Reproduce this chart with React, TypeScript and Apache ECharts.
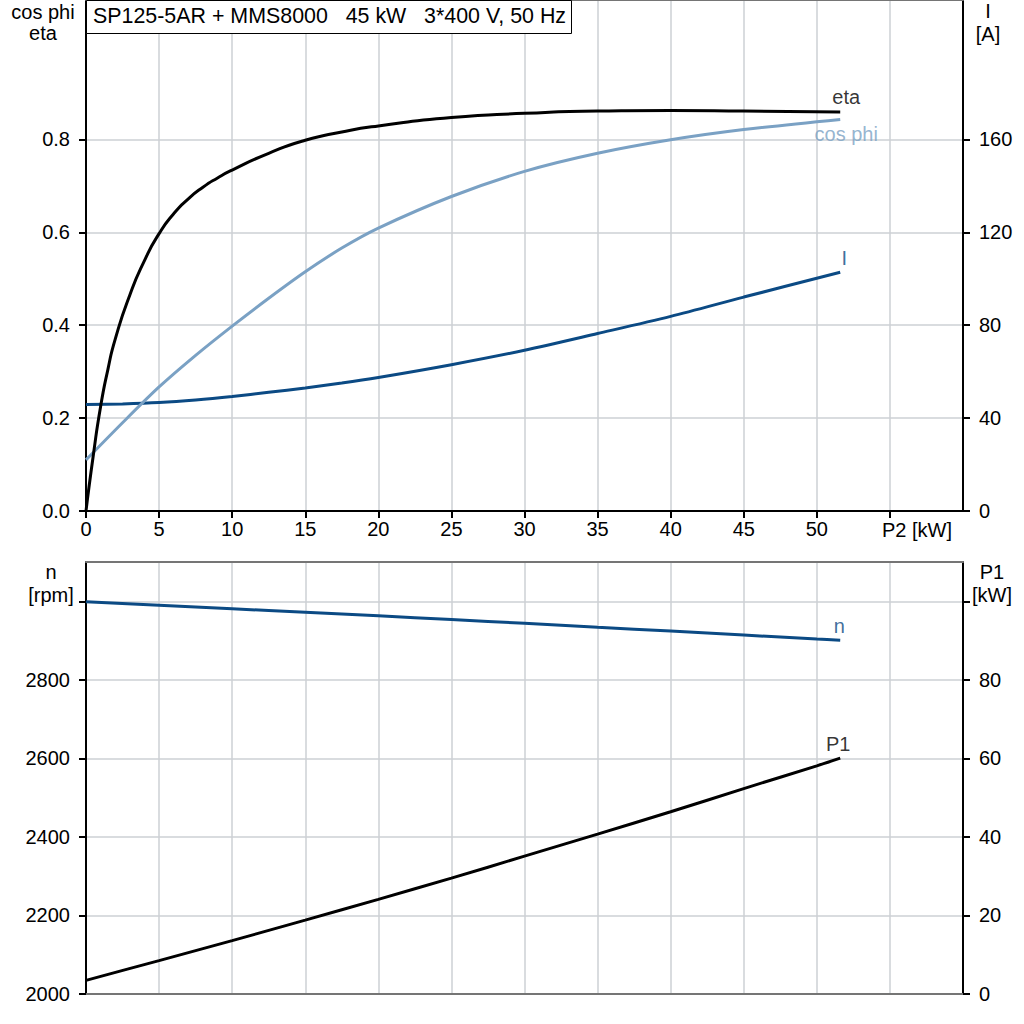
import React, { useEffect, useRef } from "react";
import * as echarts from "echarts";

// ---- data ----
const P2_ETA = [0, 0.5, 1, 1.5, 2, 3, 4, 5, 6, 7, 8, 9, 10, 12.5, 15, 17.5, 20, 25, 30, 35, 40, 45, 51.6];
const ETA = [0, 0.12, 0.225, 0.305, 0.37, 0.465, 0.539, 0.597, 0.64, 0.672, 0.697, 0.717, 0.734, 0.77, 0.798, 0.816, 0.829, 0.847, 0.856, 0.861, 0.862, 0.861, 0.859];

const P2_COS = [0, 2.5, 5, 7.5, 10, 12.5, 15, 17.5, 20, 25, 30, 35, 40, 45, 51.6];
const COS_PHI = [0.11, 0.19, 0.267, 0.335, 0.398, 0.458, 0.515, 0.566, 0.609, 0.677, 0.731, 0.77, 0.799, 0.821, 0.843];

const P2_CURRENT = [0, 2.5, 5, 7.5, 10, 12.5, 15, 17.5, 20, 25, 30, 35, 40, 45, 51.6];
const CURRENT = [45.8, 46.1, 46.7, 47.8, 49.3, 51.1, 53, 55.1, 57.5, 63, 69.2, 76.4, 83.8, 92.1, 102.8];

const P2_BOTTOM = [0, 5, 10, 15, 20, 25, 30, 35, 40, 45, 50, 51.6];
const SPEED = [2999, 2990, 2981, 2972, 2963, 2953.5, 2944, 2934, 2924, 2914, 2904, 2901];
const P1 = [3.48, 8.5, 13.6, 18.8, 24.1, 29.5, 35.1, 40.7, 46.4, 52.3, 58.1, 60.05];

const X_TICKS = [0, 5, 10, 15, 20, 25, 30, 35, 40, 45, 50, 55];
const X_LABELS = [0, 5, 10, 15, 20, 25, 30, 35, 40, 45, 50];
const TOP_LEFT_LABELS = [0, 0.2, 0.4, 0.6, 0.8];
const TOP_RIGHT_LABELS = [0, 40, 80, 120, 160];
const BOTTOM_LEFT_LABELS = [2000, 2200, 2400, 2600, 2800];
const BOTTOM_LEFT_TICKS = [2000, 2200, 2400, 2600, 2800, 3000];
const BOTTOM_RIGHT_LABELS = [0, 20, 40, 60, 80];
const BOTTOM_RIGHT_TICKS = [0, 20, 40, 60, 80, 100];

const TITLE = "SP125-5AR + MMS8000   45 kW   3*400 V, 50 Hz";

const FONT = '"Liberation Sans", Arial, sans-serif';
const BLACK = "#000000";
const DARK_BLUE = "#0b4a84";
const LIGHT_BLUE = "#7aa1c4";
const GRID_GRAY = "#cdd0d4";
const BORDER_GRAY = "#757575";

const pairs = (xs: number[], ys: number[]) => xs.map((x, i) => [x, ys[i]]);

export default function App() {
  const ref = useRef<HTMLDivElement>(null);

  useEffect(() => {
    if (!ref.current) return;
    const chart = echarts.init(ref.current, undefined, { renderer: "svg" });

    const axisLineBlack = { show: true, onZero: false, lineStyle: { color: BLACK, width: 2 } };
    const tickStyle = { show: true, inside: false, length: 7, lineStyle: { color: BLACK, width: 2 } };
    const labelStyle = { color: BLACK, fontSize: 20, fontFamily: FONT };
    const split = { show: true, lineStyle: { color: GRID_GRAY, width: 1.5 } };

    const lineSeries = (xi: number, yi: number, xs: number[], ys: number[], color: string, smooth: number) => ({
      type: "line",
      xAxisIndex: xi,
      yAxisIndex: yi,
      data: pairs(xs, ys),
      showSymbol: false,
      symbol: "none",
      smooth,
      lineStyle: { color, width: 3 },
      silent: true,
      z: 5,
    });

    const endLabel = (
      xi: number,
      yi: number,
      xs: number[],
      ys: number[],
      text: string,
      color: string,
      position: string,
      offset: number[]
    ) => ({
      type: "scatter",
      xAxisIndex: xi,
      yAxisIndex: yi,
      symbolSize: 1,
      itemStyle: { color: "rgba(0,0,0,0)" },
      silent: true,
      z: 6,
      data: [[xs[xs.length - 1], ys[ys.length - 1]]],
      label: {
        show: true,
        position,
        distance: 3,
        offset,
        formatter: text,
        color,
        fontSize: 20,
        fontFamily: FONT,
        lineHeight: 22,
      },
    });

    const option: any = {
      animation: false,
      backgroundColor: "#ffffff",
      textStyle: { fontFamily: FONT },
      grid: [
        { left: 86, top: 0, width: 877, height: 511, show: false },
        { left: 86, top: 562, width: 877, height: 432, show: false },
      ],
      xAxis: [
        {
          gridIndex: 0,
          type: "value",
          position: "bottom",
          min: 0,
          max: 60,
          interval: 5,
          axisLine: axisLineBlack,
          axisTick: { ...tickStyle, customValues: X_TICKS },
          axisLabel: { ...labelStyle, margin: 8, customValues: X_LABELS, formatter: (v: number) => String(v) },
          splitLine: split,
        },
        {
          gridIndex: 1,
          type: "value",
          position: "bottom",
          min: 0,
          max: 60,
          interval: 5,
          axisLine: { show: true, onZero: false, lineStyle: { color: BORDER_GRAY, width: 2 } },
          axisTick: { show: false },
          axisLabel: { show: false },
          splitLine: split,
        },
        {
          gridIndex: 0,
          type: "value",
          position: "top",
          min: 0,
          max: 60,
          axisLine: { show: true, onZero: false, lineStyle: { color: BORDER_GRAY, width: 2 } },
          axisTick: { show: false },
          axisLabel: { show: false },
          splitLine: { show: false },
        },
        {
          gridIndex: 1,
          type: "value",
          position: "top",
          min: 0,
          max: 60,
          axisLine: { show: true, onZero: false, lineStyle: { color: BORDER_GRAY, width: 2 } },
          axisTick: { show: false },
          axisLabel: { show: false },
          splitLine: { show: false },
        },
      ],
      yAxis: [
        {
          gridIndex: 0,
          type: "value",
          position: "left",
          min: 0,
          max: 1.1,
          interval: 0.1,
          axisLine: axisLineBlack,
          axisTick: { ...tickStyle, customValues: TOP_LEFT_LABELS },
          axisLabel: { ...labelStyle, margin: 16, customValues: TOP_LEFT_LABELS, formatter: (v: number) => v.toFixed(1) },
          splitLine: split,
        },
        {
          gridIndex: 0,
          type: "value",
          position: "right",
          min: 0,
          max: 220,
          interval: 20,
          axisLine: axisLineBlack,
          axisTick: { ...tickStyle, customValues: TOP_RIGHT_LABELS },
          axisLabel: { ...labelStyle, margin: 16, customValues: TOP_RIGHT_LABELS, formatter: (v: number) => String(v) },
          splitLine: { show: false },
        },
        {
          gridIndex: 1,
          type: "value",
          position: "left",
          min: 2000,
          max: 3100,
          interval: 100,
          axisLine: axisLineBlack,
          axisTick: { ...tickStyle, customValues: BOTTOM_LEFT_TICKS },
          axisLabel: { ...labelStyle, margin: 16, customValues: BOTTOM_LEFT_LABELS, formatter: (v: number) => String(v) },
          splitLine: split,
        },
        {
          gridIndex: 1,
          type: "value",
          position: "right",
          min: 0,
          max: 110,
          interval: 10,
          axisLine: axisLineBlack,
          axisTick: { ...tickStyle, customValues: BOTTOM_RIGHT_TICKS },
          axisLabel: { ...labelStyle, margin: 16, customValues: BOTTOM_RIGHT_LABELS, formatter: (v: number) => String(v) },
          splitLine: { show: false },
        },
      ],
      series: [
        lineSeries(0, 1, P2_CURRENT, CURRENT, DARK_BLUE, 0.3),
        lineSeries(0, 0, P2_COS, COS_PHI, LIGHT_BLUE, 0.3),
        lineSeries(0, 0, P2_ETA, ETA, BLACK, 0.6),
        lineSeries(1, 2, P2_BOTTOM, SPEED, DARK_BLUE, 0.3),
        lineSeries(1, 3, P2_BOTTOM, P1, BLACK, 0.3),
        endLabel(0, 0, P2_ETA, ETA, "eta", BLACK, "top", [6, 0]),
        endLabel(0, 0, P2_COS, COS_PHI, "cos phi", LIGHT_BLUE, "bottom", [6, 0]),
        endLabel(0, 1, P2_CURRENT, CURRENT, "I", DARK_BLUE, "top", [4, 0]),
        endLabel(1, 2, P2_BOTTOM, SPEED, "n", DARK_BLUE, "top", [-1, 0]),
        endLabel(1, 3, P2_BOTTOM, P1, "P1", BLACK, "top", [-2, 0]),
      ],
      graphic: [
        {
          type: "rect",
          z: 100,
          shape: { x: 86.5, y: 0.5, width: 485, height: 33 },
          style: { fill: "#ffffff", stroke: BLACK, lineWidth: 1 },
        },
        {
          type: "text",
          z: 101,
          x: 93,
          y: 16,
          style: { text: TITLE, fontSize: 21.4, fontFamily: FONT, fill: BLACK, align: "left", verticalAlign: "middle" },
        },
        { type: "text", z: 101, x: 43, y: 12, style: { text: "cos phi", fontSize: 20, fontFamily: FONT, fill: BLACK, align: "center", verticalAlign: "middle" } },
        { type: "text", z: 101, x: 43, y: 33, style: { text: "eta", fontSize: 20, fontFamily: FONT, fill: BLACK, align: "center", verticalAlign: "middle" } },
        { type: "text", z: 101, x: 988, y: 11, style: { text: "I", fontSize: 20, fontFamily: FONT, fill: BLACK, align: "center", verticalAlign: "middle" } },
        { type: "text", z: 101, x: 988, y: 34, style: { text: "[A]", fontSize: 20, fontFamily: FONT, fill: BLACK, align: "center", verticalAlign: "middle" } },
        { type: "text", z: 101, x: 882, y: 530, style: { text: "P2 [kW]", fontSize: 20, fontFamily: FONT, fill: BLACK, align: "left", verticalAlign: "middle" } },
        { type: "text", z: 101, x: 51, y: 572, style: { text: "n", fontSize: 20, fontFamily: FONT, fill: BLACK, align: "center", verticalAlign: "middle" } },
        { type: "text", z: 101, x: 51, y: 595, style: { text: "[rpm]", fontSize: 20, fontFamily: FONT, fill: BLACK, align: "center", verticalAlign: "middle" } },
        { type: "text", z: 101, x: 992, y: 572, style: { text: "P1", fontSize: 20, fontFamily: FONT, fill: BLACK, align: "center", verticalAlign: "middle" } },
        { type: "text", z: 101, x: 992, y: 595, style: { text: "[kW]", fontSize: 20, fontFamily: FONT, fill: BLACK, align: "center", verticalAlign: "middle" } },
      ],
    };

    chart.setOption(option);
    return () => chart.dispose();
  }, []);

  return (
    <div
      ref={ref}
      style={{ position: "fixed", left: 0, top: 0, width: 1024, height: 1024, background: "#ffffff" }}
    />
  );
}
